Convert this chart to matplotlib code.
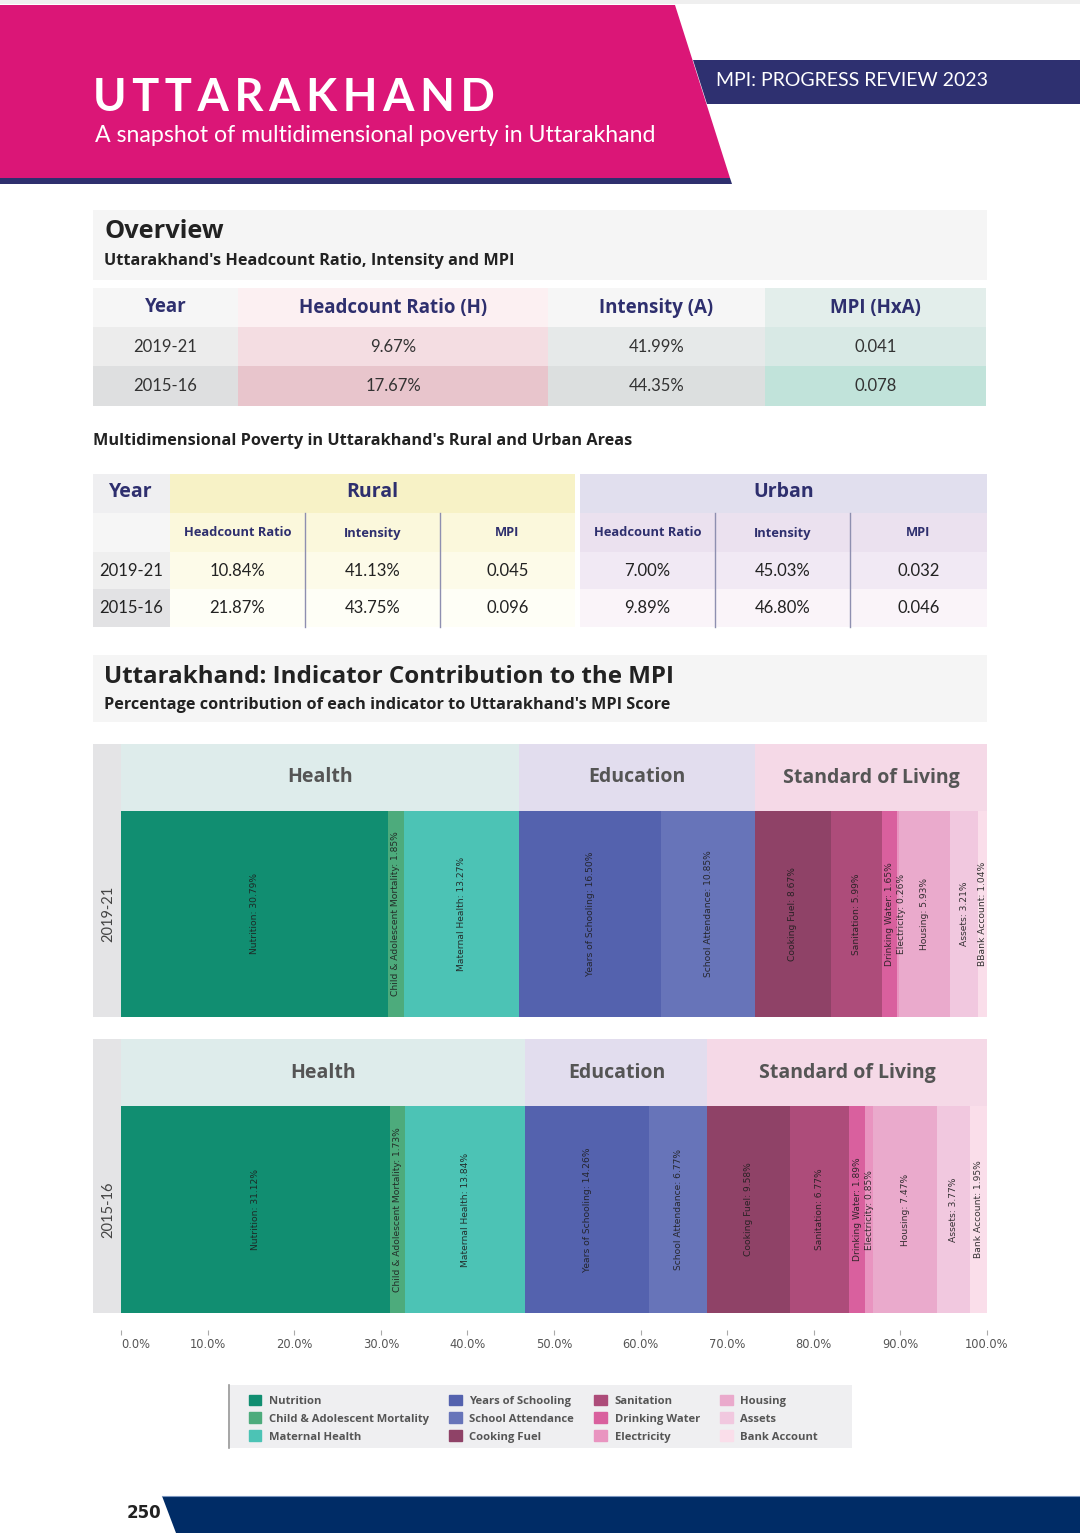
import numpy as np
import matplotlib
matplotlib.use("Agg")
import matplotlib.pyplot as plt
from matplotlib.patches import Polygon, Rectangle

# ---- data ----
years = ["2019-21", "2015-16"]
indicators = ["Nutrition", "Child & Adolescent Mortality", "Maternal Health",
              "Years of Schooling", "School Attendance", "Cooking Fuel",
              "Sanitation", "Drinking Water", "Electricity", "Housing",
              "Assets", "Bank Account"]
dimension = ["Health"] * 3 + ["Education"] * 2 + ["Standard of Living"] * 7
dims = ["Health", "Education", "Standard of Living"]
contrib_2019 = [30.79, 1.85, 13.27, 16.50, 10.85, 8.67, 5.99, 1.65, 0.26, 5.93, 3.21, 1.04]
contrib_2015 = [31.12, 1.73, 13.84, 14.26, 6.77, 9.58, 6.77, 1.89, 0.85, 7.47, 3.77, 1.95]
# the 2019-21 bank label carries a typo in the source
seg_names_2019 = indicators[:-1] + ["BBank Account"]
seg_names_2015 = indicators

ov_cols = ["Year", "Headcount Ratio (H)", "Intensity (A)", "MPI (HxA)"]
ov_rows = [["2019-21", "9.67%", "41.99%", "0.041"],
           ["2015-16", "17.67%", "44.35%", "0.078"]]

ru_sub = ["Headcount Ratio", "Intensity", "MPI"]
rural = [["10.84%", "41.13%", "0.045"], ["21.87%", "43.75%", "0.096"]]
urban = [["7.00%", "45.03%", "0.032"], ["9.89%", "46.80%", "0.046"]]

ticks = np.arange(0, 101, 10)

# ---- style ----
ind_colors = ["#118e71", "#4dab7c", "#4cc3b5", "#5462ae", "#6774b9", "#8f4267",
              "#ad4c7a", "#d9609e", "#e994c0", "#eaaacc", "#f1c8df", "#fadeea"]
dim_colors = {"Health": "#deeceb", "Education": "#e2ddee", "Standard of Living": "#f5d9e7"}
NAVY = "#2e2f6e"
HEAD = "Open Sans"
VAL = "Lato"
NUM = ["Liberation Sans Narrow", "DejaVu Sans"]

fig = plt.figure(figsize=(10.8, 15.33), dpi=100)
bg = fig.add_axes([0, 0, 1, 1])
bg.set_xlim(0, 1080)
bg.set_ylim(1533, 0)
bg.axis("off")


def rect(x0, y0, x1, y1, c, z=1):
    bg.add_patch(Rectangle((x0, y0), x1 - x0, y1 - y0, color=c, lw=0, zorder=z))


# ---- page header ----
rect(0, 0, 1080, 4, "#efefef")
bg.add_patch(Polygon([(0, 5), (675, 5), (730, 178), (0, 178)], color="#db1677", lw=0))
bg.add_patch(Polygon([(0, 178), (730, 178), (732, 184), (0, 184)], color=NAVY, lw=0))
bg.add_patch(Polygon([(693, 60), (1080, 60), (1080, 104), (707, 104)], color="#2e3070", lw=0))
bg.text(716, 81, "MPI: PROGRESS REVIEW 2023", color="white", fontsize=14,
        family=VAL, va="center", ha="left")
bg.text(93, 98, "\u2009".join("UTTARAKHAND"),
        color="white", fontsize=32.5, fontweight="bold", family=[VAL, "DejaVu Sans"],
        va="center", ha="left")
bg.text(95, 136, "A snapshot of multidimensional poverty in Uttarakhand", color="white",
        fontsize=16.7, family=VAL, va="center", ha="left")

# ---- overview ----
rect(93, 210, 987, 280, "#f5f5f5")
bg.text(104, 232, "Overview", fontsize=18.3, fontweight="bold", family=HEAD,
        color="#222222", va="center")
bg.text(104, 261, "Uttarakhand's Headcount Ratio, Intensity and MPI", fontsize=11.7,
        fontweight="bold", family=HEAD, color="#222222", va="center")

ov_x = [93, 238, 548, 765, 986]
ov_y = [288, 327, 366, 406]
ov_fill = [["#f6f6f6", "#ececec", "#dedfe0"],
           ["#fcf0f2", "#f4dde2", "#e8c5cc"],
           ["#f6f6f6", "#e6e9e9", "#dcdfdf"],
           ["#e3eeeb", "#d8e9e5", "#c1e3da"]]
for j, col in enumerate(ov_cols):
    for i in range(3):
        rect(ov_x[j], ov_y[i], ov_x[j + 1], ov_y[i + 1], ov_fill[j][i])
    cx = (ov_x[j] + ov_x[j + 1]) / 2
    bg.text(cx, (ov_y[0] + ov_y[1]) / 2, col, fontsize=13.5, fontweight="bold",
            family=HEAD, color=NAVY, ha="center", va="center")
    for i, row in enumerate(ov_rows):
        bg.text(cx, (ov_y[i + 1] + ov_y[i + 2]) / 2, row[j], fontsize=12, family=VAL,
                color="#333333", ha="center", va="center")

# ---- rural / urban ----
bg.text(93, 441, "Multidimensional Poverty in Uttarakhand's Rural and Urban Areas",
        fontsize=11.7, fontweight="bold", family=HEAD, color="#222222", va="center")
ru_y = [474, 513, 552, 589, 627]
rect(93, ru_y[0], 170, ru_y[1], "#efeff1")
rect(93, ru_y[1], 170, ru_y[2], "#f6f6f6")
rect(93, ru_y[2], 170, ru_y[3], "#efefef")
rect(93, ru_y[3], 170, ru_y[4], "#e2e2e4")
bg.text(131, 492, "Year", fontsize=14, fontweight="bold", family=HEAD, color=NAVY,
        ha="center", va="center")
for i, yr in enumerate(years):
    bg.text(131, (ru_y[i + 2] + ru_y[i + 3]) / 2, yr, fontsize=12, family=VAL,
            color="#222222", ha="center", va="center")

groups = [("Rural", [170, 305, 440, 575], ["#f7f2c6", "#fbf8dc", "#fdfbe9", "#fefef6"], rural),
          ("Urban", [580, 715, 850, 987], ["#e1dfee", "#ebe1ef", "#f1e9f4", "#faf4f9"], urban)]
for name, xs, fills, vals in groups:
    for r in range(4):
        rect(xs[0], ru_y[r], xs[-1], ru_y[r + 1], fills[r])
    bg.text((xs[0] + xs[-1]) / 2, 492, name, fontsize=14, fontweight="bold",
            family=HEAD, color=NAVY, ha="center", va="center")
    for k in range(3):
        cx = (xs[k] + xs[k + 1]) / 2
        bg.text(cx, 533, ru_sub[k], fontsize=9.3, fontweight="bold", family=HEAD,
                color=NAVY, ha="center", va="center")
        for i in range(2):
            bg.text(cx, (ru_y[i + 2] + ru_y[i + 3]) / 2, vals[i][k], fontsize=12,
                    family=VAL, color="#222222", ha="center", va="center")
    for xv in xs[1:3]:
        bg.plot([xv, xv], [ru_y[1], ru_y[4]], color="#8e8fb0", lw=1, zorder=2)

# ---- contribution section ----
rect(93, 655, 987, 722, "#f5f5f5")
bg.text(104, 677, "Uttarakhand: Indicator Contribution to the MPI", fontsize=17.4,
        fontweight="bold", family=HEAD, color="#222222", va="center")
bg.text(104, 705, "Percentage contribution of each indicator to Uttarakhand's MPI Score",
        fontsize=11.7, fontweight="bold", family=HEAD, color="#222222", va="center")

hdr = 67 / 206


def draw_year(top, bottom, vals, names, year):
    ax = fig.add_axes([121 / 1080, 1 - bottom / 1533, 866 / 1080, (bottom - top) / 1533])
    vals = np.array(vals)
    left = np.concatenate([[0], np.cumsum(vals)[:-1]])
    ax.barh(0.5, vals, left=left, height=1.0, color=ind_colors, lw=0)
    for d in dims:
        m = np.array([x == d for x in dimension])
        start = left[m][0]
        width = vals[m].sum()
        ax.barh(1 + hdr / 2, width, left=start, height=hdr, color=dim_colors[d], lw=0)
        ax.text(start + width / 2, 1 + hdr / 2, d, fontsize=14, fontweight="bold",
                family=HEAD, color="#555555", ha="center", va="center")
    for k, (v, l, n) in enumerate(zip(vals, left, names)):
        cx = l + v / 2
        if n == "Electricity" and v < 0.5:
            cx += 0.45
        ax.text(cx, 0.5, f"{n}: {v:.2f}%", rotation=90, fontsize=6.6, family=NUM,
                color="#1e1e1e", alpha=0.9, ha="center", va="center")
    ax.set_xlim(0, 100)
    ax.set_ylim(0, 1 + hdr)
    ax.axis("off")
    # year column
    rect(93, top, 121, bottom, "#e4e4e6")
    bar_mid = bottom - 103
    bg.text(108, bar_mid, year, rotation=90, fontsize=10.5, family=VAL, color="#444444",
            ha="center", va="center")
    return ax


draw_year(744, 1017, contrib_2019, seg_names_2019, years[0])
draw_year(1039, 1313, contrib_2015, seg_names_2015, years[1])

# x axis ticks below the bars
axt = fig.add_axes([121 / 1080, 1 - 1335 / 1533, 866 / 1080, 5 / 1533])
axt.set_xlim(0, 100)
axt.set_yticks([])
for s in axt.spines.values():
    s.set_visible(False)
axt.patch.set_alpha(0)
axt.set_xticks(ticks)
axt.set_xticklabels([f"{t:.1f}%" for t in ticks], fontsize=8.3, family=NUM, color="#555555")
axt.tick_params(axis="x", direction="in", length=3.5, width=0.8, color="#aaaaaa", pad=2)
axt.get_xticklabels()[0].set_ha("left")

# ---- legend ----
rect(228, 1385, 852, 1448, "#efeff1")
bg.plot([229, 229], [1385, 1448], color="#999999", lw=1.2, zorder=2)
handles = [Rectangle((0, 0), 1, 1, color=c) for c in ind_colors]
leg = fig.legend(handles, indicators, ncol=4, loc="upper left",
                 bbox_to_anchor=(243 / 1080, 1 - 1389 / 1533), frameon=False,
                 prop={"family": HEAD, "weight": "bold", "size": 8.1},
                 handlelength=1.1, handleheight=1.1, handletextpad=0.7,
                 columnspacing=1.8, labelspacing=0.5, borderpad=0.0)
for t in leg.get_texts():
    t.set_color("#555555")

# ---- footer ----
bg.add_patch(Polygon([(162, 1496), (1080, 1496), (1080, 1533), (176, 1533)],
                     color="#002c66", lw=0))
bg.plot([162, 1080], [1496, 1496], color="#7b96c0", lw=0.8)
bg.text(144, 1513, "250", fontsize=12, fontweight="bold", family=NUM, color="#222222",
        ha="center", va="center")

fig.savefig("out.png", dpi=100)
